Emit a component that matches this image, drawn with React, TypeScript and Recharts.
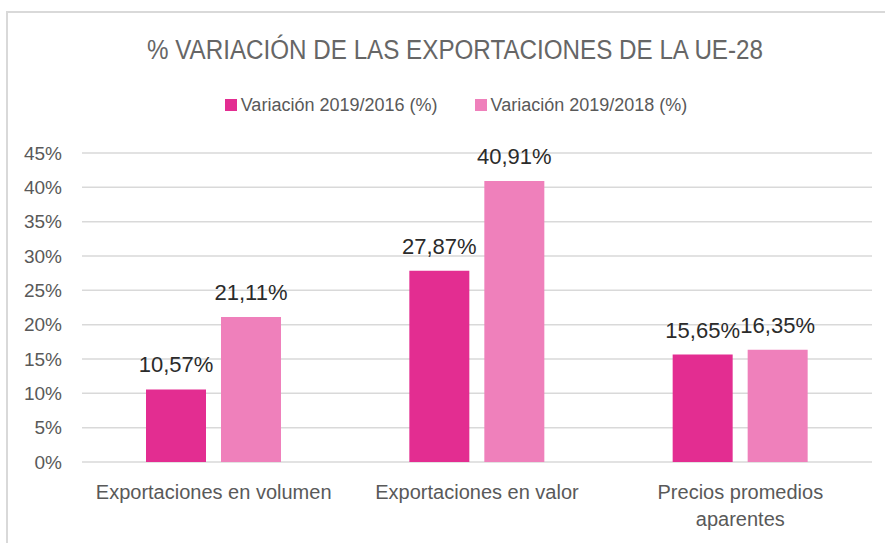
import React from 'react';
import { BarChart, Bar, XAxis, YAxis, CartesianGrid, LabelList } from 'recharts';

const title = '% VARIACIÓN DE LAS EXPORTACIONES DE LA UE-28';
const categories = ['Exportaciones en volumen', 'Exportaciones en valor', 'Precios promedios\naparentes'];
const seriesNames = ['Variación 2019/2016 (%)', 'Variación 2019/2018 (%)'];
const variacion2016 = [10.57, 27.87, 15.65];
const variacion2018 = [21.11, 40.91, 16.35];
const yTicks = [0, 5, 10, 15, 20, 25, 30, 35, 40, 45];
const colors = ['#E32D91', '#EF80BB'];

const FONT = '"Liberation Sans", Arial, sans-serif';

const data = categories.map((c, i) => ({ name: c, v2016: variacion2016[i], v2018: variacion2018[i] }));

const fmt = (v: any) => Number(v).toFixed(2).replace('.', ',') + '%';

const CatTick = (props: any) => {
  const { x, y, payload } = props;
  const lines = String(payload.value).split('\n');
  return (
    <text x={x} y={y} textAnchor="middle" fill="#595959" fontSize={20} fontFamily={FONT}>
      {lines.map((l, i) => (
        <tspan key={i} x={x} dy={i === 0 ? 14 : 27}>
          {l}
        </tspan>
      ))}
    </text>
  );
};

export default function App() {
  return (
    <div style={{ position: 'absolute', left: 0, top: 0, width: 885, height: 543, background: '#fff', overflow: 'hidden', fontFamily: FONT }}>
      <div style={{ position: 'absolute', left: 6, top: 11, width: 900, height: 560, borderTop: '2px solid #d9d9d9', borderLeft: '2px solid #d9d9d9', boxSizing: 'border-box' }} />
      <BarChart
        width={885}
        height={543}
        data={data}
        margin={{ top: 153, right: 13, bottom: 0, left: 0 }}
        barGap={15}
        style={{ position: 'absolute', left: 0, top: 0 }}
      >
        <CartesianGrid vertical={false} stroke="#d9d9d9" strokeWidth={1.5} />
        <XAxis
          dataKey="name"
          height={81}
          axisLine={false}
          tickLine={false}
          tickSize={0}
          tickMargin={23}
          interval={0}
          tick={<CatTick />}
        />
        <YAxis
          width={82}
          domain={[0, 45]}
          ticks={yTicks}
          axisLine={false}
          tickLine={false}
          tickSize={0}
          tickMargin={20}
          tickFormatter={(v: number) => `${v}%`}
          tick={{ fill: '#595959', fontSize: 19, fontFamily: FONT }}
        />
        <Bar dataKey="v2016" name={seriesNames[0]} fill={colors[0]} barSize={60} isAnimationActive={false}>
          <LabelList dataKey="v2016" position="top" offset={17} formatter={fmt} fill="#2b2b2b" fontSize={22} fontFamily={FONT} />
        </Bar>
        <Bar dataKey="v2018" name={seriesNames[1]} fill={colors[1]} barSize={60} isAnimationActive={false}>
          <LabelList dataKey="v2018" position="top" offset={17} formatter={fmt} fill="#2b2b2b" fontSize={22} fontFamily={FONT} />
        </Bar>
      </BarChart>
      <svg width={885} height={543} style={{ position: 'absolute', left: 0, top: 0, pointerEvents: 'none' }}>
        <text x={147} y={59} fontSize={27} fill="#666666" fontFamily={FONT} textLength={616} lengthAdjust="spacingAndGlyphs">
          {title}
        </text>
      </svg>
      <div
        style={{
          position: 'absolute',
          left: 0,
          top: 96,
          width: 912,
          height: 18,
          display: 'flex',
          justifyContent: 'center',
          alignItems: 'center',
          gap: 37,
          fontSize: 18,
          lineHeight: '18px',
          color: '#595959',
        }}
      >
        {seriesNames.map((n, i) => (
          <div key={n} style={{ display: 'flex', alignItems: 'center' }}>
            <div style={{ width: 12, height: 12, background: colors[i], marginRight: 4 }} />
            <span>{n}</span>
          </div>
        ))}
      </div>
    </div>
  );
}
